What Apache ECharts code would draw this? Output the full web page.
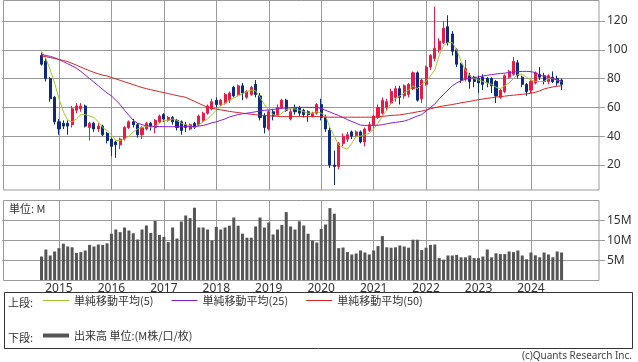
<!DOCTYPE html>
<html><head><meta charset="utf-8">
<script src="https://cdn.jsdelivr.net/npm/echarts@6/dist/echarts.min.js"></script>
<style>html,body{margin:0;padding:0;background:#fff}#c{width:638px;height:362px}</style>
</head><body><div id="c"></div>
<script>
// first month of data: 2014/09, monthly candles
const firstYear = 2014, firstMonth = 9;
const opens = [96,92,80,67,50,49,49,48,58,59, 61,46,49,45,47,42,38,36,34,38, 46,50,48,41,45,49,46,50,55,51, 53,51,50,48,45,49,48,51,56,59, 65,62,63,65,74,69,75,67,69,76, 68,54,45,57,55,60,65,52,60,60, 58,57,54,56,62,53,44,20,19,35, 38,43,40,43,36,44,48,53,56,60, 63,67,73,68,69,73,84,66,76,88, 94,100,105,116,111,100,90,80,82,81, 80,81,80,80,78,67,71,81,83,91, 81,76,72,77,83,82,78,81,80,79];
const closes = [90,80,66,50,45,47,47,59,61,61, 47,49,45,47,41,37,33,34,38,46, 50,48,41,46,49,47,51,54,52,53, 50,46,44,46,48,46,54,56,61,64, 62,65,69,70,68,75,70,71,74,69, 53,46,57,54,60,65,58,57,57,56, 55,55,56,62,53,45,20,19,35,40, 41,40,43,36,45,48,54,60,65,64, 71,73,67,75,76,84,65,79,88,96, 101,106,115,105,99,90,79,87,78,78, 77,76,77,75,68,72,82,85,92,82, 76,71,78,84,81,78,82,78,77,76];
const lows = [89,78,64,48,41,45,41,46,56,57, 46,37,43,43,40,35,26,25,31,37, 45,46,39,38,44,44,42,49,50,50, 48,44,41,43,44,45,47,50,55,58, 60,61,62,63,67,68,65,66,68,67, 51,42,44,51,54,59,57,51,55,54, 53,50,53,55,51,43,18,6,17,33, 36,38,39,35,33,43,46,52,55,58, 62,64,62,66,67,72,64,63,75,86, 92,98,104,103,96,88,77,78,73,74, 70,72,74,70,63,66,70,80,82,80, 74,68,70,76,79,76,76,77,75,72];
const highs = [98,94,81,68,52,51,51,61,63,63, 62,50,50,49,48,43,39,37,39,47, 51,52,49,47,50,50,52,55,56,54, 54,52,51,50,49,50,55,57,62,66, 67,66,70,71,75,76,77,72,75,79, 70,56,58,59,62,66,66,59,62,61, 59,58,57,63,66,55,46,30,36,42, 43,44,44,44,46,50,55,62,67,66, 73,75,75,76,77,85,85,80,89,97, 130,108,120,124,113,101,91,93,84,82, 82,83,81,81,79,73,83,86,95,93, 82,77,79,85,88,84,83,85,82,80];
const ma5 = [99,94,86,77,66,57,51,50,52,55, 55,54,53,50,46,44,41,37,37,38, 40,43,45,46,47,46,47,49,51,51, 52,51,49,48,47,46,48,50,52,55, 58,61,63,65,66.5,68,69.5,71,72,71.5, 67,62,58,55,54,56,58.5,59,59,58, 57,56,56,57,56,54,46,40,34,32, 31,35,40,40,41,42,45,49,54,58, 63,66,68,70,72,75,73,76,78,82, 86,96,103,105,105,100,92,86,82,80, 79,78,77,76,74,73,75,77,80,83, 83,81,79,78,78,78,80,80,79,78];
const ma25 = [97,96,95.5,94.5,93.2,91.8,90.3,88.8,87.2,85, 82.5,80,77.5,75,72.5,70,68,65,62,58, 54.5,51,49,48,47.2,47,46.8,46.7,46.6,46.6, 46.6,46.6,46.6,46.6,46.6,46.7,47,47.5,48.3,49.3, 50,51,52,53.4,54.2,55,55.6,56,56.4,57, 57.5,58,58.2,58.6,59,59.4,59.6,59.8,60,60, 60,60,60,60,59.2,58,56.8,55.5,54.4,53, 51.5,50.2,49,47.7,47.5,47.5,47.5,47.6,48,48.6, 49.2,49.6,50,50.5,51.5,52.8,54,55,57.5,60, 62.3,66,69,72,75,77,78.5,79.5,80.2,80.6, 81.2,81.8,82.3,82.8,83.2,83.5,83.8,84.2,84.6,84.8, 85,85,84.8,84.2,82.5,81.5,80.8,80,79,78];
const ma50 = [95.7,95.2,94.6,94,93.3,92.6,91.8,90.6,89.3,88, 86.7,85.5,84.3,83.3,82.4,81.8,80.8,79.8,78.8,77.8, 76.8,75.8,74.8,73.8,73,72.3,71.6,70.9,70.3,69.6, 68.9,68.2,67.6,67,65.6,64.2,62.8,61.4,60.2,59.4, 58.8,58.3,57.8,57.2,56.8,56.4,56,55.6,55.2,54.9, 54.6,54.4,54.2,54,53.8,53.6,53.6,53.6,53.6,53.6, 53.6,53.6,53.6,53.6,53.5,53.3,53.2,53.2,53.2,53.2, 53.2,53.2,53.2,53.2,53.2,53.2,53.2,53.5,53.8,54.1, 54.4,54.6,54.8,55.3,55.8,56.3,56.9,57.4,58.2,59, 59.8,60.5,61,61.5,62,62.6,63.2,63.7,64.2,64.8, 65.4,65.8,66.3,66.7,67.2,67.5,67.8,68.2,68.5,68.8, 69.1,69.4,69.8,70.5,71.5,72.8,73.6,74.2,74.7,75];
const volumes = [6.0,7.75,6.25,7.25,8.1,9.2,8.5,8.3,6.9,7.1, 7.5,8.9,8.5,9.0,8.9,9.3,11.7,12.75,12.1,13.25, 12.5,11.8,10.25,12.75,13.75,11.9,14.9,11.4,10.9,9.6, 13.25,10.5,14.75,16.25,15.6,18.2,13.25,13.25,12.75,10, 13.4,12.75,13.25,13.7,15.75,13.7,11.7,10.7,10.7,13.5, 15.75,13.25,14.5,11.5,12.75,13.9,17.1,13.5,12.75,14.8, 13.75,11.7,10,9.5,12.9,14,18.1,16.7,8.1,8.25, 7.1,6.5,6.75,7.5,7,6.5,7.5,8.6,11.1,8.3, 8.2,8.3,8.75,8.5,8.2,10.2,10.2,7.6,8.2,8.9, 9.0,5.6,5.2,6.25,6.25,6.4,5.8,5.8,6.25,5.6, 5.6,6,7.75,5.8,6.8,6.6,6.6,7.25,7.1,7.5, 6.25,5.3,7,6.3,5.8,7,6.5,5.8,7.25,7];
const yearTicks = ['2015','2016','2017','2018','2019','2020','2021','2022','2023','2024'];
const priceTicks = [20,40,60,80,100,120];
const volumeTicks = [5,10,15];
const seriesNames = ['単純移動平均(5)','単純移動平均(25)','単純移動平均(50)'];
const volumeName = '出来高 単位:(M株/口/枚)';

// empty months padded on both sides of the data on the month axis
const padBefore = 9, padAfter = 9;
const n = closes.length;
const start = firstYear * 12 + (firstMonth - 1) - padBefore;
const months = [];
for (let k = 0; k < n + padBefore + padAfter; k++) {
  const t = start + k;
  months.push(Math.floor(t / 12) + '/' + String(t % 12 + 1).padStart(2, '0'));
}
const pad = arr => Array(padBefore).fill('-').concat(arr, Array(padAfter).fill('-'));
const candles = pad(opens.map((o, i) => [o, closes[i], lows[i], highs[i]]));
const isYear = (idx, val) => val.endsWith('/01') && yearTicks.includes(val.slice(0, 4));

const CJK = '"Noto Sans CJK JP", "Noto Sans", sans-serif';
const gridLine = '#9a9a9a';
const chart = echarts.init(document.getElementById('c'), null, {renderer: 'canvas'});
const xBase = {
  type: 'category', data: months, boundaryGap: false,
  axisLine: {show: false}, axisTick: {show: false},
  splitLine: {show: true, interval: isYear, lineStyle: {color: gridLine, width: 1}}
};
chart.setOption({
  animation: false,
  textStyle: {fontFamily: CJK},
  grid: [
    {left: 2.17, right: 37.1, top: 1, height: 189},
    {left: 2.17, right: 37.1, top: 201, height: 79.5}
  ],
  xAxis: [
    Object.assign({}, xBase, {gridIndex: 0, axisLabel: {show: false}}),
    Object.assign({}, xBase, {gridIndex: 1, axisLabel: {show: true, interval: isYear, formatter: v => v.slice(0, 4), margin: 2, color: '#333', fontSize: 12, fontFamily: '"Noto Sans", sans-serif'}})
  ],
  yAxis: [
    {gridIndex: 0, type: 'value', position: 'right', min: 2.64, max: 133.89,
     axisLine: {show: false},
     axisTick: {show: true, length: 4, customValues: priceTicks, lineStyle: {color: gridLine}},
     axisLabel: {customValues: priceTicks, margin: 6, color: '#333', fontSize: 12, fontFamily: '"Noto Sans", sans-serif'},
     splitLine: {show: true, lineStyle: {color: gridLine, width: 1}}},
    {gridIndex: 1, type: 'value', position: 'right', min: 0, max: 19.875,
     axisLine: {show: false},
     axisTick: {show: true, length: 4, customValues: volumeTicks, lineStyle: {color: gridLine}},
     axisLabel: {customValues: volumeTicks, margin: 6, color: '#333', fontSize: 12, fontFamily: '"Noto Sans", sans-serif', formatter: v => v + 'M'},
     splitLine: {show: true, lineStyle: {color: gridLine, width: 1}}}
  ],
  legend: [
    {data: seriesNames, left: 43, top: 295, icon: 'rect', itemWidth: 26, itemHeight: 1, itemGap: 18, padding: 0,
     selectedMode: false, textStyle: {fontSize: 11, color: '#333', fontFamily: CJK}},
    {data: [volumeName], left: 43, top: 330, icon: 'rect', itemWidth: 26, itemHeight: 4, padding: 0,
     selectedMode: false, textStyle: {fontSize: 11, color: '#333', fontFamily: CJK}}
  ],
  series: [
    {type: 'candlestick', name: '株価', xAxisIndex: 0, yAxisIndex: 0, data: candles, barWidth: 2.6, z: 2,
     itemStyle: {color: '#ee1844', color0: '#0d2a82', borderColor: '#ee1844', borderColor0: '#0d2a82', borderWidth: 1}},
    {type: 'line', name: seriesNames[0], xAxisIndex: 0, yAxisIndex: 0, data: pad(ma5), showSymbol: false, z: 3,
     itemStyle: {color: '#a2c62c'}, lineStyle: {color: '#a2c62c', width: 1}},
    {type: 'line', name: seriesNames[1], xAxisIndex: 0, yAxisIndex: 0, data: pad(ma25), showSymbol: false, z: 3,
     itemStyle: {color: '#8a1cd2'}, lineStyle: {color: '#8a1cd2', width: 1}},
    {type: 'line', name: seriesNames[2], xAxisIndex: 0, yAxisIndex: 0, data: pad(ma50), showSymbol: false, z: 3,
     itemStyle: {color: '#d42424'}, lineStyle: {color: '#d42424', width: 1}},
    {type: 'bar', name: volumeName, xAxisIndex: 1, yAxisIndex: 1, data: pad(volumes), barWidth: 3,
     itemStyle: {color: '#555555'}}
  ],
  graphic: [
    {type: 'rect', silent: true, z: 50, shape: {x: 3.5, y: 0.5, width: 595.5, height: 189.5}, style: {fill: 'transparent', stroke: gridLine, lineWidth: 1}},
    {type: 'rect', silent: true, z: 50, shape: {x: 3.5, y: 200.5, width: 595.5, height: 80}, style: {fill: 'transparent', stroke: gridLine, lineWidth: 1}},
    {type: 'rect', silent: true, z: 50, shape: {x: 4.5, y: 292.5, width: 628, height: 56}, style: {fill: 'transparent', stroke: '#333', lineWidth: 1}},
    {type: 'text', silent: true, z: 50, x: 9, y: 209, style: {text: '単位: M', font: '11px ' + CJK, fill: '#333', verticalAlign: 'middle', textVerticalAlign: 'middle'}},
    {type: 'text', silent: true, z: 50, x: 8, y: 303, style: {text: '上段:', font: '11px ' + CJK, fill: '#333', verticalAlign: 'middle', textVerticalAlign: 'middle'}},
    {type: 'text', silent: true, z: 50, x: 8, y: 338, style: {text: '下段:', font: '11px ' + CJK, fill: '#333', verticalAlign: 'middle', textVerticalAlign: 'middle'}},
    {type: 'text', silent: true, z: 50, x: 632, y: 356, style: {text: '(c)Quants Research Inc.', font: '10px "Noto Sans", sans-serif', fill: '#444', align: 'right', textAlign: 'right', verticalAlign: 'middle', textVerticalAlign: 'middle'}}
  ]
});
</script>
</body></html>
